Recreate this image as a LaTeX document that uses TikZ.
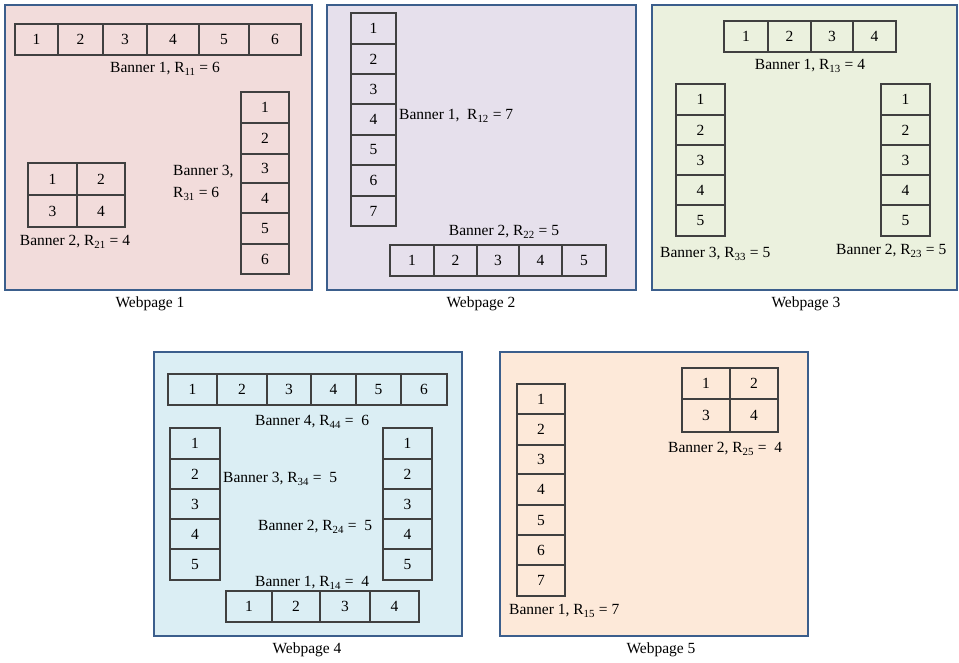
\documentclass[tikz,border=0pt]{standalone}
\usepackage{fontspec}
\setmainfont{Liberation Serif}
\definecolor{pborder}{HTML}{3B5E8C}
\definecolor{cellline}{HTML}{404040}
\definecolor{cA}{HTML}{F2DCDB}
\definecolor{cB}{HTML}{E6E0EC}
\definecolor{cC}{HTML}{EBF1DE}
\definecolor{cD}{HTML}{DBEEF4}
\definecolor{cE}{HTML}{FDE9D9}
\newcommand\R[1]{R\textsubscript{#1}}
\newcommand\lblfont{\fontsize{15.5}{18}\selectfont}
\newcommand\bx[7]{\node[#1, minimum width={(#5-#3)*1pt}, minimum height={(#6-#4)*1pt}] (#2) at ({(#3+#5)/2},{(#4+#6)/2}) {#7};}
\tikzset{
  panelbox/.style={draw=pborder, line width=2.7pt, inner sep=0pt, outer sep=0pt},
  cellbox/.style={draw=cellline, line width=1.2pt, inner sep=0pt, outer sep=0pt, font=\lblfont},
  lbl/.style={inner sep=0pt, font=\lblfont},
}
\begin{document}
\begin{tikzpicture}[x=1pt,y=-1pt]
\useasboundingbox (0,0) rectangle (959,663);
% panels
\bx{panelbox,fill=cA}{p1}{5}{5}{312}{290}{}
\bx{panelbox,fill=cB}{p2}{327}{5}{636}{290}{}
\bx{panelbox,fill=cC}{p3}{652}{5}{957}{290}{}
\bx{panelbox,fill=cD}{p4}{154}{352}{462}{636}{}
\bx{panelbox,fill=cE}{p5}{500}{352}{808}{636}{}
% ---------- Webpage 1
\foreach \a/\b [count=\i] in {15/58,58/103,103/147,147/199,199/249,249/301}
  {\bx{cellbox}{p1a\i}{\a}{24}{\b}{55}{\i}}
\node[lbl] (p1la) at (165,69) {Banner 1, \R{11} = 6};
\foreach \a/\b [count=\i] in {92/123,123/154,154/183,183/213,213/244,244/274}
  {\bx{cellbox}{p1c\i}{241}{\a}{289}{\b}{\i}}
\node[lbl,anchor=west] (p1lc1) at (173,172) {Banner 3,};
\node[lbl,anchor=west] (p1lc2) at (173,194) {\R{31} = 6};
\bx{cellbox}{p1b1}{28}{163}{77}{195}{1}
\bx{cellbox}{p1b2}{77}{163}{125}{195}{2}
\bx{cellbox}{p1b3}{28}{195}{77}{227}{3}
\bx{cellbox}{p1b4}{77}{195}{125}{227}{4}
\node[lbl] (p1lb) at (75,242) {Banner 2, \R{21} = 4};
\node[lbl] (w1) at (150,304) {Webpage 1};
% ---------- Webpage 2
\foreach \a/\b [count=\i] in {13/44,44/74,74/104,104/135,135/165,165/196,196/226}
  {\bx{cellbox}{p2a\i}{351}{\a}{396}{\b}{\i}}
\node[lbl,anchor=west] (p2la) at (399,116) {Banner 1,~ \R{12} = 7};
\foreach \a/\b [count=\i] in {390/434,434/477,477/519,519/562,562/606}
  {\bx{cellbox}{p2b\i}{\a}{245}{\b}{276}{\i}}
\node[lbl] (p2lb) at (504,232) {Banner 2, \R{22} = 5};
\node[lbl] (w2) at (481,304) {Webpage 2};
% ---------- Webpage 3
\foreach \a/\b [count=\i] in {724/768,768/811,811/853,853/896}
  {\bx{cellbox}{p3a\i}{\a}{21}{\b}{52}{\i}}
\node[lbl] (p3la) at (810,66) {Banner 1, \R{13} = 4};
\foreach \a/\b [count=\i] in {84/115,115/145,145/175,175/205,205/236}
  {\bx{cellbox}{p3c\i}{676}{\a}{725}{\b}{\i}
   \bx{cellbox}{p3b\i}{881}{\a}{930}{\b}{\i}}
\node[lbl,anchor=west] (p3lc) at (660,254) {Banner 3, \R{33} = 5};
\node[lbl,anchor=west] (p3lb) at (836,251) {Banner 2, \R{23} = 5};
\node[lbl] (w3) at (806,304) {Webpage 3};
% ---------- Webpage 4
\foreach \a/\b [count=\i] in {168/217,217/267,267/311,311/356,356/401,401/447}
  {\bx{cellbox}{p4d\i}{\a}{374}{\b}{405}{\i}}
\node[lbl,anchor=west] (p4ld) at (255,422) {Banner 4, \R{44} =~ 6};
\foreach \a/\b [count=\i] in {428/459,459/489,489/519,519/549,549/580}
  {\bx{cellbox}{p4c\i}{170}{\a}{220}{\b}{\i}
   \bx{cellbox}{p4b\i}{383}{\a}{432}{\b}{\i}}
\node[lbl,anchor=west] (p4lc) at (223,479) {Banner 3, \R{34} =~ 5};
\node[lbl,anchor=west] (p4lb) at (258,527) {Banner 2, \R{24} =~ 5};
\node[lbl,anchor=west] (p4la) at (255,583) {Banner 1, \R{14} =~ 4};
\foreach \a/\b [count=\i] in {226/272,272/320,320/370,370/419}
  {\bx{cellbox}{p4a\i}{\a}{591}{\b}{622}{\i}}
\node[lbl] (w4) at (307,650) {Webpage 4};
% ---------- Webpage 5
\foreach \a/\b [count=\i] in {384/414,414/445,445/474,474/505,505/535,535/565,565/596}
  {\bx{cellbox}{p5a\i}{517}{\a}{565}{\b}{\i}}
\node[lbl,anchor=west] (p5la) at (509,611) {Banner 1, \R{15} = 7};
\bx{cellbox}{p5b1}{682}{368}{730}{399}{1}
\bx{cellbox}{p5b2}{730}{368}{778}{399}{2}
\bx{cellbox}{p5b3}{682}{399}{730}{432}{3}
\bx{cellbox}{p5b4}{730}{399}{778}{432}{4}
\node[lbl,anchor=west] (p5lb) at (668,449) {Banner 2, \R{25} =~ 4};
\node[lbl] (w5) at (661,650) {Webpage 5};
\end{tikzpicture}
\end{document}
